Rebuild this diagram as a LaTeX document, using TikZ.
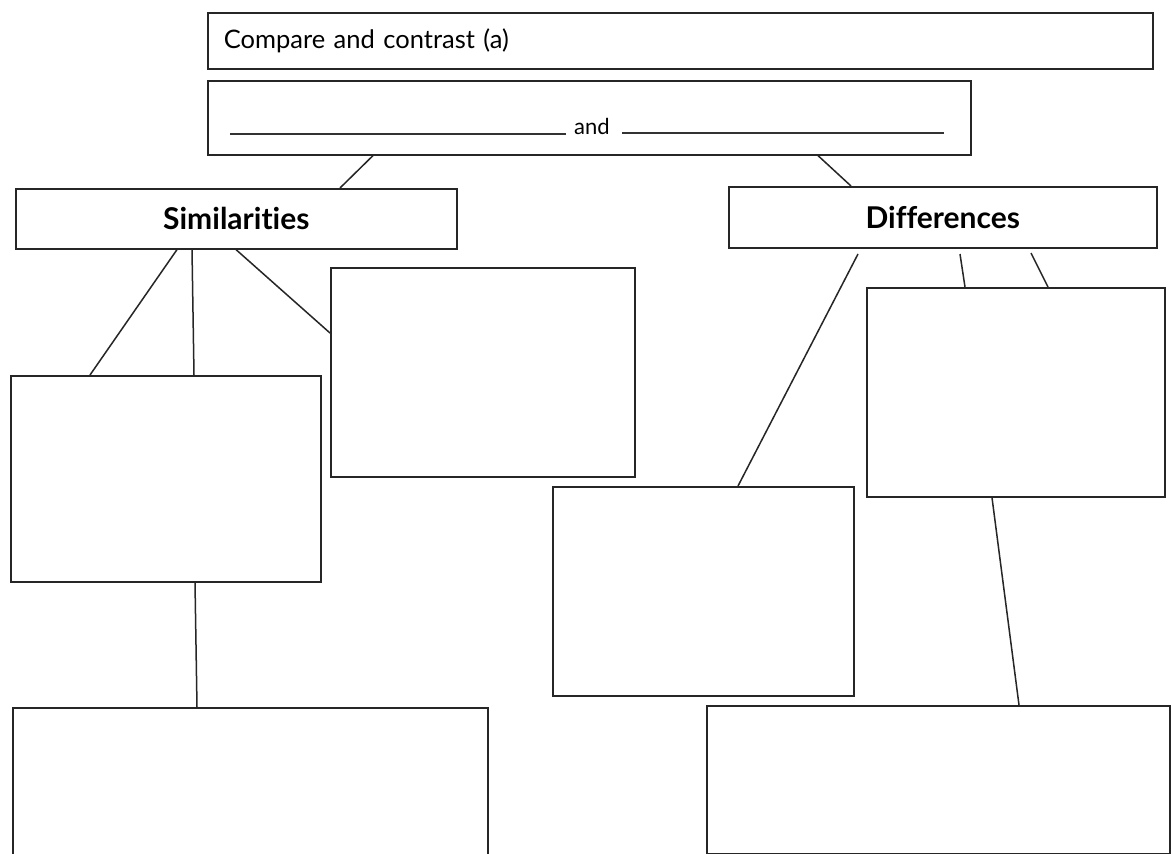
\documentclass[tikz,border=0pt]{standalone}
\usepackage{fontspec}
\setmainfont{Lato}[Ligatures=CommonOff]
\begin{document}
\begin{tikzpicture}[x=1pt,y=-1pt,
  box/.style={draw=black!85,line width=1.6pt,anchor=north west,inner sep=0pt,fill=white},
  head/.style={box,font=\fontsize{30}{34}\selectfont\bfseries},
  conn/.style={draw=black!85,line width=1.5pt},
  blank/.style={draw=black!80,line width=1.2pt}]
\useasboundingbox (0,0) rectangle (1171,854);
\fill[white] (0,0) rectangle (1171,854);
% header boxes
\node[box,minimum width=945,minimum height=56,text width=913,inner xsep=16pt,align=left,
  font=\fontsize{25.5}{29}\selectfont] (title) at (207,12) {Compare and contrast (a)};
\node[box,minimum width=763,minimum height=74] (pair) at (207,80) {};
\node[font=\fontsize{22}{26}\selectfont,anchor=base] (and) at (592,134) {and};
\draw[blank] (230,134) -- (566,134);
\draw[blank] (622,133) -- (944,133);
% category boxes
\node[head,minimum width=441,minimum height=60] (sim) at (15,188) {Similarities};
\node[head,minimum width=428,minimum height=61] (diff) at (728,186) {Differences};
% similarity boxes
\node[box,minimum width=304,minimum height=209] (s3) at (330,267) {};
\node[box,minimum width=310,minimum height=206] (s1) at (10,375) {};
\node[box,minimum width=475,minimum height=150] (s4) at (12,707) {};
% difference boxes
\node[box,minimum width=301,minimum height=209] (d1) at (552,486) {};
\node[box,minimum width=298,minimum height=209] (d2) at (866,287) {};
\node[box,minimum width=463,minimum height=148] (d3) at (706,705) {};
% free ends just below the Differences box
\coordinate (dA) at (858,254);
\coordinate (dB) at (960,254);
\coordinate (dC) at (1031,253);
% connectors
\draw[conn] (pair.south west -| 373,0) -- (sim.north west -| 340,0);
\draw[conn] (pair.south west -| 818,0) -- (diff.north west -| 851,0);
\draw[conn] (sim.south west -| 177,0) -- (s1.north west -| 90,0);
\draw[conn] (sim.south west -| 192,0) -- (s1.north west -| 194,0);
\draw[conn] (sim.south west -| 236,0) -- (s3.west |- 0,333);
\draw[conn] (s1.south west -| 195,0) -- (s4.north west -| 197,0);
\draw[conn] (dA) -- (d1.north west -| 738,0);
\draw[conn] (dB) -- (d2.north west -| 965,0);
\draw[conn] (dC) -- (d2.north west -| 1048,0);
\draw[conn] (d2.south west -| 992,0) -- (d3.north west -| 1019,0);
\end{tikzpicture}
\end{document}
